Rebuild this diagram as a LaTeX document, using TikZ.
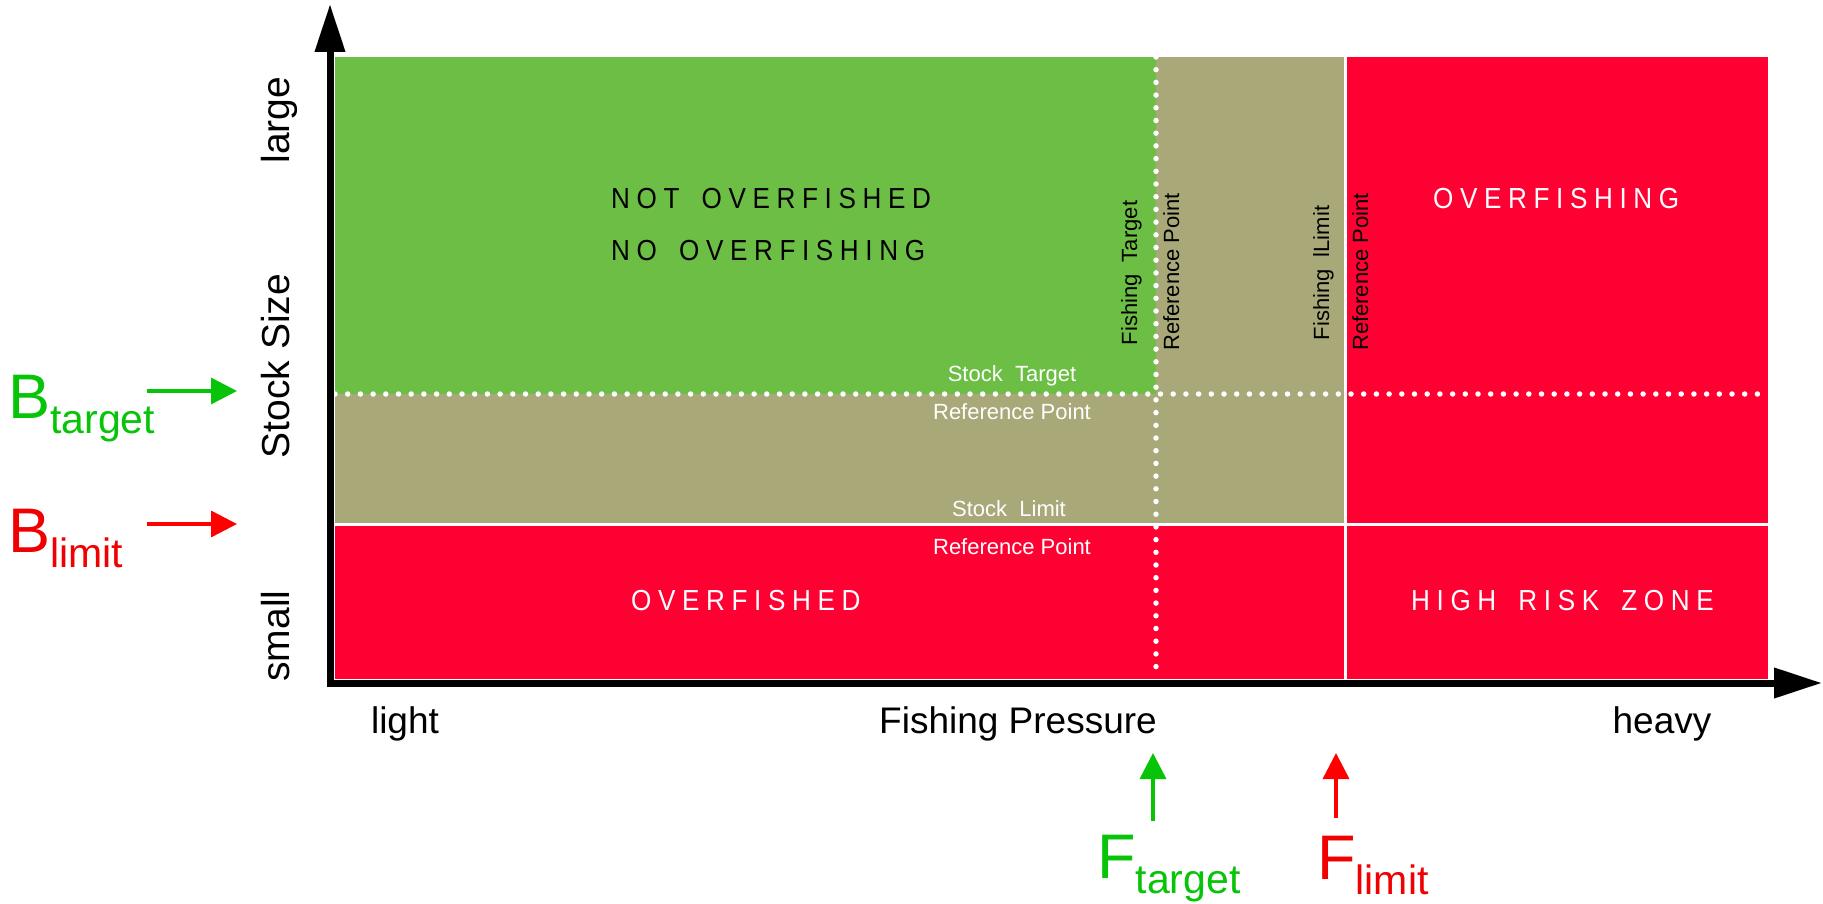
\documentclass[tikz,border=0pt]{standalone}
\usepackage{fontspec}
\setmainfont{Liberation Sans}
\newfontfamily\zonefont[LetterSpace=22.8,FakeStretch=0.9,WordSpace=1.6]{Liberation Sans}
\usetikzlibrary{arrows.meta}
\definecolor{zgreen}{RGB}{108,190,69}
\definecolor{zkhaki}{RGB}{168,168,120}
\definecolor{zred}{RGB}{255,0,51}
\definecolor{rgreen}{RGB}{8,196,8}
\definecolor{rred}{RGB}{240,0,0}
\newcommand{\fsz}[1]{\fontsize{#1}{#1}\selectfont}
\newcommand{\refsub}[1]{\raisebox{-15pt}{\fsz{41}#1}}
\begin{document}
\begin{tikzpicture}[x=1pt,y=-1pt,
  zone/.style={font=\fsz{29}\zonefont,inner sep=0pt,anchor=base west},
  reflabel/.style={font=\fsz{22},inner sep=0pt,anchor=base},
  axislabel/.style={font=\fsz{37},inner sep=0pt,anchor=base},
  ylabel/.style={font=\fsz{39},inner sep=0pt,anchor=base,rotate=90},
  refname/.style={font=\fsz{63},inner sep=0pt,anchor=base west},
  dots/.style={white,line width=5.5pt,line cap=round,dash pattern=on 0pt off 12.7pt},
  axis/.style={line width=7pt,-{Triangle[length=48pt,width=29pt]}},
  refarrow/.style={line width=3.5pt,-{Triangle[length=26pt,width=26pt]}}]
\useasboundingbox (0,0) rectangle (1823,904);

\fill[zred] (335,57) rectangle (1768,679);
\fill[zkhaki] (335,57) rectangle (1345,524);
\fill[zgreen] (335,57) rectangle (1156,394);

\draw[white,line width=3pt] (1345,57) -- (1345,679);
\draw[white,line width=3pt] (335,524) -- (1768,524);
\draw[dots] (1156,57) -- (1156,679);
\draw[dots] (335,394) -- (1768,394);

\coordinate (xstart) at (327,683);
\coordinate (xend) at (1822,683);
\coordinate (ystart) at (330,687);
\coordinate (yend) at (330,4);
\draw[axis] (xstart) -- (xend);
\draw[axis] (ystart) -- (yend);

\node[zone] (notover) at (611,209) {NOT OVERFISHED};
\node[zone] (noover) at (611,261) {NO OVERFISHING};
\node[zone,white] (overfishing) at (1433,208) {OVERFISHING};
\node[zone,white] (overfished) at (631,610) {OVERFISHED};
\node[zone,white] (highrisk) at (1411,610) {HIGH RISK ZONE};

\node[reflabel,white] (sttarget) at (1012,381) {Stock~~Target};
\node[reflabel,white] (stref) at (1012,419) {Reference Point};
\node[reflabel,white] (stlimit) at (1009,516) {Stock~~Limit};
\node[reflabel,white] (slref) at (1012,554) {Reference Point};
\node[reflabel,rotate=90] (fttarget) at (1137,273) {Fishing~~Target};
\node[reflabel,rotate=90] (ftref) at (1179,272) {Reference Point};
\node[reflabel,rotate=90] (fllimit) at (1329,273) {Fishing~~lLimit};
\node[reflabel,rotate=90] (flref) at (1368,272) {Reference Point};

\node[axislabel] (light) at (405,733) {light};
\node[axislabel] (pressure) at (1018,733) {Fishing Pressure};
\node[axislabel] (heavy) at (1662,733) {heavy};
\node[ylabel] (large) at (289,120) {large};
\node[ylabel] (stocksize) at (289,366) {Stock Size};
\node[ylabel] (small) at (289,636) {small};

\node[refname,text=rgreen] (btarget) at (8,418) {B\refsub{target}};
\node[refname,text=rred] (blimit) at (8,552) {B\refsub{limit}};
\node[refname,text=rgreen] (ftarget) at (1097,878) {F\refsub{target}};
\node[refname,text=rred] (flimit) at (1317,879) {F\refsub{limit}};

\coordinate (bt-from) at (147,391);
\coordinate (bt-to) at (237,391);
\coordinate (bl-from) at (147,524);
\coordinate (bl-to) at (237,524);
\coordinate (ft-from) at (1153,821);
\coordinate (ft-to) at (1153,753);
\coordinate (fl-from) at (1336,818);
\coordinate (fl-to) at (1336,753);
\draw[refarrow,rgreen] (bt-from) -- (bt-to);
\draw[refarrow,red] (bl-from) -- (bl-to);
\draw[refarrow,rgreen] (ft-from) -- (ft-to);
\draw[refarrow,red] (fl-from) -- (fl-to);
\end{tikzpicture}
\end{document}
